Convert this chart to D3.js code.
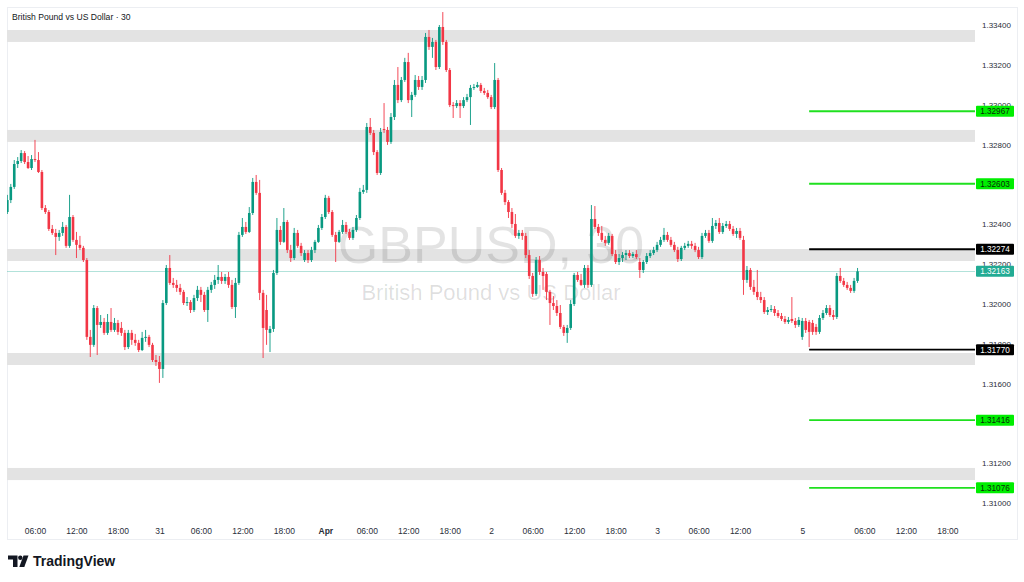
<!DOCTYPE html>
<html><head><meta charset="utf-8">
<script src="https://cdn.jsdelivr.net/npm/d3@7"></script>
<style>
html,body{margin:0;padding:0;background:#fff;}
svg{display:block;font-family:"Liberation Sans",Arial,sans-serif;}
</style></head><body>
<svg id="chart" width="1024" height="582"></svg>
<script>
const titleText = "British Pound vs US Dollar · 30";
const watermarkSymbol = "GBPUSD, 30";
const watermarkName = "British Pound vs US Dollar";
const brandName = "TradingView";

// 30-minute candles, bar index 0..246
const opens = [
1.32461,1.32521,1.32587,1.32702,1.32717,1.32757,1.32712,1.32682,1.32727,1.32722,
1.32662,1.32481,1.32461,1.32376,1.32356,1.32336,1.32356,1.32386,1.32291,1.32436,
1.32321,1.32296,1.32281,1.32220,1.31834,1.31794,1.31979,1.31894,1.31909,1.31854,
1.31909,1.31869,1.31904,1.31879,1.31854,1.31783,1.31854,1.31819,1.31804,1.31768,
1.31829,1.31834,1.31794,1.31718,1.31708,1.31673,1.32004,1.32180,1.32105,1.32095,
1.32080,1.32060,1.32004,1.32009,1.31969,1.32029,1.32070,1.32045,1.31969,1.32070,
1.32095,1.32120,1.32135,1.32115,1.32135,1.32095,1.31984,1.32105,1.32346,1.32386,
1.32361,1.32456,1.32612,1.32557,1.32055,1.31969,1.31854,1.31874,1.32155,1.32371,
1.32311,1.32411,1.32270,1.32230,1.32356,1.32291,1.32220,1.32255,1.32220,1.32270,
1.32311,1.32381,1.32436,1.32532,1.32461,1.32346,1.32311,1.32361,1.32396,1.32361,
1.32331,1.32371,1.32431,1.32562,1.32572,1.32888,1.32858,1.32762,1.32657,1.32878,
1.32873,1.32813,1.32938,1.33099,1.33023,1.33124,1.33214,1.33023,1.33049,1.33124,
1.33089,1.33124,1.33340,1.33290,1.33315,1.33189,1.33390,1.33315,1.33174,1.32998,
1.32993,1.33008,1.32993,1.33023,1.33038,1.33084,1.33089,1.33099,1.33069,1.33059,
1.33038,1.32988,1.33124,1.32672,1.32557,1.32511,1.32461,1.32401,1.32341,1.32356,
1.32341,1.32245,1.32140,1.32050,1.32220,1.32160,1.32150,1.32060,1.32004,1.31989,
1.31954,1.31884,1.31854,1.31879,1.31999,1.32145,1.32120,1.32095,1.32180,1.32095,
1.32426,1.32386,1.32356,1.32321,1.32306,1.32341,1.32250,1.32210,1.32230,1.32245,
1.32255,1.32240,1.32250,1.32210,1.32170,1.32210,1.32240,1.32255,1.32270,1.32296,
1.32321,1.32346,1.32321,1.32296,1.32270,1.32225,1.32281,1.32291,1.32301,1.32291,
1.32270,1.32235,1.32341,1.32356,1.32316,1.32391,1.32406,1.32361,1.32391,1.32401,
1.32376,1.32351,1.32366,1.32321,1.32120,1.32170,1.32085,1.32060,1.32034,1.32019,
1.31959,1.31969,1.31974,1.31954,1.31939,1.31924,1.31909,1.31924,1.31914,1.31894,
1.31834,1.31914,1.31909,1.31904,1.31884,1.31859,1.31929,1.31954,1.31979,1.31944,
1.31934,1.32140,1.32115,1.32095,1.32080,1.32065,1.32115];
const highs = [
1.32547,1.32602,1.32722,1.32737,1.32772,1.32767,1.32742,1.32747,1.32823,1.32762,
1.32672,1.32496,1.32471,1.32396,1.32376,1.32371,1.32411,1.32396,1.32547,1.32446,
1.32361,1.32341,1.32291,1.32230,1.31869,1.31994,1.31989,1.31944,1.31929,1.31949,
1.31979,1.31929,1.31919,1.31909,1.31869,1.31869,1.31869,1.31849,1.31819,1.31859,
1.31869,1.31844,1.31804,1.31743,1.31738,1.32019,1.32195,1.32245,1.32130,1.32120,
1.32100,1.32070,1.32034,1.32019,1.32045,1.32090,1.32085,1.32060,1.32085,1.32110,
1.32145,1.32195,1.32160,1.32150,1.32160,1.32120,1.32130,1.32361,1.32431,1.32411,
1.32486,1.32632,1.32647,1.32622,1.32070,1.32045,1.31889,1.32170,1.32431,1.32391,
1.32481,1.32421,1.32296,1.32381,1.32371,1.32306,1.32270,1.32270,1.32286,1.32321,
1.32396,1.32451,1.32547,1.32542,1.32471,1.32361,1.32371,1.32421,1.32411,1.32376,
1.32386,1.32446,1.32582,1.32597,1.32908,1.32933,1.32873,1.32772,1.32883,1.33008,
1.32888,1.32958,1.33124,1.33189,1.33139,1.33235,1.33260,1.33064,1.33149,1.33144,
1.33144,1.33360,1.33375,1.33335,1.33325,1.33400,1.33465,1.33325,1.33184,1.33013,
1.33023,1.33023,1.33038,1.33054,1.33099,1.33104,1.33114,1.33109,1.33084,1.33074,
1.33049,1.33209,1.33134,1.32682,1.32572,1.32521,1.32481,1.32451,1.32371,1.32371,
1.32356,1.32270,1.32155,1.32235,1.32240,1.32180,1.32160,1.32070,1.32039,1.32019,
1.31994,1.31894,1.31894,1.32019,1.32155,1.32160,1.32150,1.32195,1.32195,1.32496,
1.32491,1.32401,1.32391,1.32341,1.32356,1.32351,1.32270,1.32250,1.32260,1.32270,
1.32270,1.32260,1.32270,1.32230,1.32220,1.32255,1.32270,1.32286,1.32311,1.32336,
1.32381,1.32361,1.32336,1.32311,1.32286,1.32291,1.32306,1.32316,1.32316,1.32306,
1.32286,1.32356,1.32371,1.32371,1.32431,1.32421,1.32431,1.32406,1.32416,1.32416,
1.32391,1.32381,1.32381,1.32341,1.32190,1.32180,1.32120,1.32170,1.32060,1.32034,
1.31984,1.31994,1.31989,1.31969,1.31954,1.31939,1.31934,1.32034,1.31929,1.31934,
1.31929,1.31929,1.31919,1.31919,1.31899,1.31944,1.31969,1.31994,1.31994,1.31969,
1.32155,1.32180,1.32130,1.32110,1.32095,1.32130,1.32180];
const lows = [
1.32451,1.32506,1.32577,1.32682,1.32707,1.32702,1.32677,1.32672,1.32712,1.32657,
1.32471,1.32451,1.32366,1.32346,1.32245,1.32316,1.32341,1.32281,1.32281,1.32311,
1.32230,1.32270,1.32210,1.31819,1.31733,1.31784,1.31743,1.31879,1.31844,1.31844,
1.31859,1.31859,1.31844,1.31839,1.31768,1.31773,1.31794,1.31789,1.31758,1.31763,
1.31809,1.31783,1.31708,1.31688,1.31603,1.31628,1.31994,1.32095,1.32080,1.32060,
1.32045,1.31994,1.31989,1.31954,1.31959,1.32014,1.32009,1.31959,1.31909,1.32055,
1.32075,1.32100,1.32100,1.32100,1.32080,1.31974,1.31929,1.32095,1.32336,1.32351,
1.32356,1.32446,1.32547,1.32019,1.31728,1.31794,1.31758,1.31859,1.32145,1.32296,
1.32306,1.32255,1.32210,1.32220,1.32281,1.32240,1.32210,1.32205,1.32210,1.32255,
1.32306,1.32371,1.32426,1.32451,1.32336,1.32210,1.32306,1.32351,1.32351,1.32321,
1.32321,1.32361,1.32421,1.32552,1.32557,1.32848,1.32747,1.32647,1.32647,1.32858,
1.32798,1.32803,1.32923,1.33008,1.33013,1.33114,1.33008,1.32938,1.33039,1.33074,
1.33074,1.33109,1.33275,1.33235,1.33174,1.33179,1.33300,1.33164,1.32988,1.32933,
1.32983,1.32933,1.32983,1.33013,1.32898,1.33074,1.33084,1.33059,1.33049,1.33029,
1.32978,1.32978,1.32662,1.32547,1.32496,1.32431,1.32381,1.32331,1.32326,1.32321,
1.32230,1.32125,1.32035,1.32040,1.32145,1.32070,1.32019,1.31894,1.31969,1.31939,
1.31874,1.31839,1.31804,1.31869,1.31989,1.32110,1.32090,1.32080,1.32080,1.32085,
1.32376,1.32341,1.32311,1.32291,1.32296,1.32240,1.32200,1.32195,1.32210,1.32220,
1.32230,1.32230,1.32225,1.32130,1.32155,1.32200,1.32230,1.32245,1.32260,1.32286,
1.32311,1.32311,1.32286,1.32260,1.32210,1.32215,1.32270,1.32281,1.32276,1.32260,
1.32225,1.32225,1.32331,1.32306,1.32306,1.32376,1.32351,1.32351,1.32381,1.32366,
1.32341,1.32331,1.32321,1.32045,1.32105,1.32070,1.32045,1.32019,1.32004,1.31949,
1.31944,1.31959,1.31939,1.31929,1.31914,1.31899,1.31899,1.31904,1.31879,1.31884,
1.31819,1.31854,1.31783,1.31844,1.31844,1.31849,1.31919,1.31944,1.31934,1.31919,
1.31924,1.32105,1.32085,1.32070,1.32055,1.32055,1.32105];
const closes = [
1.32521,1.32587,1.32702,1.32717,1.32757,1.32712,1.32682,1.32727,1.32722,1.32662,
1.32481,1.32461,1.32376,1.32356,1.32336,1.32356,1.32386,1.32291,1.32436,1.32321,
1.32296,1.32281,1.32220,1.31834,1.31794,1.31979,1.31894,1.31909,1.31854,1.31909,
1.31869,1.31904,1.31859,1.31854,1.31783,1.31854,1.31819,1.31804,1.31768,1.31829,
1.31834,1.31794,1.31718,1.31708,1.31673,1.32004,1.32180,1.32105,1.32095,1.32080,
1.32060,1.32004,1.32009,1.31969,1.32029,1.32070,1.32045,1.31969,1.32070,1.32095,
1.32120,1.32135,1.32115,1.32135,1.32095,1.31984,1.32105,1.32346,1.32386,1.32361,
1.32456,1.32612,1.32557,1.32055,1.31879,1.31869,1.31874,1.32155,1.32371,1.32311,
1.32411,1.32270,1.32230,1.32356,1.32291,1.32255,1.32255,1.32220,1.32270,1.32311,
1.32381,1.32436,1.32532,1.32461,1.32346,1.32311,1.32361,1.32396,1.32361,1.32331,
1.32371,1.32431,1.32562,1.32572,1.32888,1.32858,1.32762,1.32657,1.32863,1.32873,
1.32813,1.32938,1.33099,1.33023,1.33124,1.33214,1.33023,1.33049,1.33124,1.33089,
1.33124,1.33340,1.33290,1.33315,1.33189,1.33390,1.33315,1.33174,1.32998,1.32993,
1.33008,1.32993,1.33023,1.33038,1.33084,1.33089,1.33099,1.33069,1.33059,1.33038,
1.32988,1.33124,1.32672,1.32557,1.32511,1.32461,1.32401,1.32341,1.32356,1.32341,
1.32245,1.32140,1.32050,1.32220,1.32160,1.32140,1.32060,1.32004,1.31989,1.31954,
1.31884,1.31854,1.31879,1.31999,1.32145,1.32120,1.32095,1.32180,1.32095,1.32426,
1.32386,1.32356,1.32321,1.32306,1.32341,1.32250,1.32210,1.32230,1.32245,1.32255,
1.32240,1.32250,1.32235,1.32170,1.32210,1.32240,1.32255,1.32270,1.32296,1.32321,
1.32346,1.32321,1.32296,1.32270,1.32225,1.32281,1.32291,1.32301,1.32291,1.32270,
1.32235,1.32341,1.32356,1.32316,1.32391,1.32406,1.32361,1.32391,1.32401,1.32376,
1.32351,1.32366,1.32331,1.32120,1.32170,1.32085,1.32060,1.32034,1.32019,1.31959,
1.31969,1.31974,1.31954,1.31939,1.31924,1.31909,1.31919,1.31914,1.31894,1.31919,
1.31914,1.31869,1.31859,1.31859,1.31859,1.31929,1.31954,1.31979,1.31944,1.31934,
1.32140,1.32115,1.32095,1.32080,1.32065,1.32115,1.32163];

const timeTickBars   = [8,20,32,44,56,68,80,92,104,116,128,140,152,164,176,188,200,212,230,248,260,272];
const timeTickLabels = ["06:00","12:00","18:00","31","06:00","12:00","18:00","Apr","06:00","12:00","18:00","2",
                        "06:00","12:00","18:00","3","06:00","12:00","5","06:00","12:00","18:00"];
const boldTickLabels = ["Apr"];
// scale labels that remain visible beside the level labels (1.31400 and 1.32600 are covered in the source)
const priceTicks = [1.31000,1.31200,1.31600,1.31800,1.32000,1.32200,1.32400,1.32800,1.33000,1.33200,1.33400];

const zoneTops    = [1.33375,1.32873,1.32275,1.31753,1.31176];
const zoneBottoms = [1.33315,1.32813,1.32215,1.31693,1.31115];

const levelPrices = [1.32967,1.32603,1.32274,1.31770,1.31416,1.31076];
const levelKinds  = ["target","target","pivot","pivot","target","target"];
const levelStartBar = 232;
const lastPrice = 1.32163;

// ---------- drawing ----------
const svg = d3.select("#chart");
const plot = {left:7, right:975, top:7, bottom:520};
const x = d3.scaleLinear().domain([0,240]).range([7.35,836.8]);
const y = d3.scaleLinear().domain([1.31000,1.33400]).range([503,25]);
const UP = "#089981", DOWN = "#f23645";
const kindColor = {target:"#1fe01f", pivot:"#000000"};
const kindLabel = {target:"#00ee00", pivot:"#000000"};
const kindText = {target:"#0a2a0a", pivot:"#ffffff"};

// frame
svg.append("rect").attr("x",7.5).attr("y",7.5).attr("width",1010).attr("height",532)
  .attr("fill","#fff").attr("stroke","#eceef2");

svg.append("defs").append("clipPath").attr("id","plotclip")
  .append("rect").attr("x",plot.left).attr("y",plot.top)
  .attr("width",plot.right-plot.left).attr("height",plot.bottom-plot.top);

const g = svg.append("g").attr("clip-path","url(#plotclip)");

// zones
g.selectAll("rect.zone").data(zoneTops).join("rect").attr("class","zone")
  .attr("x",plot.left).attr("width",plot.right-plot.left)
  .attr("y",d=>y(d)).attr("height",(d,i)=>y(zoneBottoms[i])-y(d))
  .attr("fill","#e3e3e3");

// watermark
g.append("text").attr("x",491).attr("y",263).attr("text-anchor","middle")
  .attr("font-size",52).attr("fill","#000").attr("fill-opacity",0.11).text(watermarkSymbol);
g.append("text").attr("x",491).attr("y",300).attr("text-anchor","middle")
  .attr("font-size",22).attr("fill","#000").attr("fill-opacity",0.13).text(watermarkName);

// last price line
g.append("line").attr("x1",plot.left).attr("x2",plot.right)
  .attr("y1",Math.round(y(lastPrice))+0.5).attr("y2",Math.round(y(lastPrice))+0.5)
  .attr("stroke","#22ab94").attr("stroke-opacity",0.35).attr("stroke-width",1);

// candles
const idx = d3.range(closes.length);
const bw = 2.6;
g.selectAll("line.wick").data(idx).join("line").attr("class","wick")
  .attr("x1",i=>x(i)).attr("x2",i=>x(i))
  .attr("y1",i=>y(highs[i])).attr("y2",i=>y(lows[i]))
  .attr("stroke",i=>closes[i]>=opens[i]?UP:DOWN).attr("stroke-width",0.9);
g.selectAll("rect.body").data(idx).join("rect").attr("class","body")
  .attr("x",i=>x(i)-bw/2).attr("width",bw)
  .attr("y",i=>y(Math.max(opens[i],closes[i])))
  .attr("height",i=>Math.max(1,Math.abs(y(opens[i])-y(closes[i]))))
  .attr("fill",i=>closes[i]>=opens[i]?UP:DOWN);

// level lines
g.selectAll("line.level").data(levelPrices).join("line").attr("class","level")
  .attr("x1",x(levelStartBar)).attr("x2",plot.right)
  .attr("y1",d=>y(d)).attr("y2",d=>y(d))
  .attr("stroke",(d,i)=>kindColor[levelKinds[i]]).attr("stroke-width",1.8);

// price axis
const yAxis = svg.append("g").attr("transform",`translate(${plot.right},0)`)
  .call(d3.axisRight(y).tickValues(priceTicks).tickFormat(d3.format(".5f")).tickSize(0).tickPadding(7));
yAxis.select(".domain").remove();
yAxis.selectAll("text").attr("font-size",8).attr("fill","#2a2e39").attr("font-family","Liberation Sans, Arial, sans-serif");

// price labels
function priceLabel(price,bg,fg){
  const yy = y(price);
  const lg = svg.append("g");
  lg.append("rect").attr("x",976).attr("y",yy-5.5).attr("width",38).attr("height",11).attr("rx",1).attr("fill",bg);
  lg.append("text").attr("x",995).attr("y",yy+3).attr("text-anchor","middle")
    .attr("font-size",8.2).attr("fill",fg).text(d3.format(".5f")(price));
}
levelPrices.forEach((p,i)=>priceLabel(p,kindLabel[levelKinds[i]],kindText[levelKinds[i]]));
priceLabel(lastPrice,"#22ab94","#ffffff");

// time axis
const xAxis = svg.append("g").attr("transform",`translate(0,${plot.bottom})`)
  .call(d3.axisBottom(x).tickValues(timeTickBars).tickFormat((d,i)=>timeTickLabels[i]).tickSize(0).tickPadding(8));
xAxis.select(".domain").remove();
xAxis.selectAll("text").attr("font-size",8.5).attr("fill","#2a2e39")
  .attr("font-family","Liberation Sans, Arial, sans-serif")
  .attr("font-weight",(d,i)=>boldTickLabels.includes(timeTickLabels[i])?"bold":"normal");

// title
svg.append("text").attr("x",12).attr("y",20).attr("font-size",8.6).attr("fill","#131722").text(titleText);

// brand
const logo = svg.append("g").attr("fill","#131722");
logo.append("path").attr("d","M8,555.5 H17.5 V567 H13 V559.5 H8 Z");
logo.append("circle").attr("cx",20.3).attr("cy",557.7).attr("r",2.2);
logo.append("path").attr("d","M23.5,555.5 H28.5 L24.3,567 H19.3 Z");
svg.append("text").attr("x",33).attr("y",566).attr("font-size",14).attr("font-weight","bold")
  .attr("fill","#131722").text(brandName);
</script>
</body></html>
